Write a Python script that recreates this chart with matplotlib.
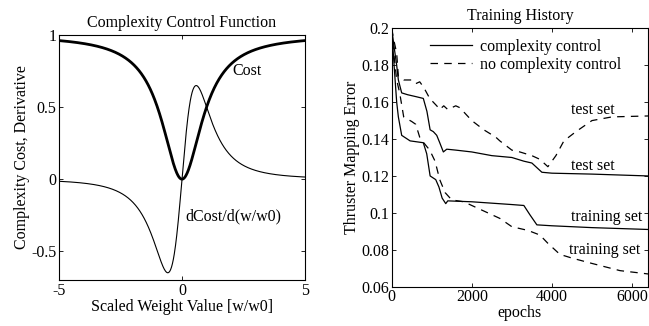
import numpy as np
import matplotlib
matplotlib.use('Agg')
import matplotlib.pyplot as plt

plt.rcParams['font.family'] = ['Liberation Serif', 'DejaVu Serif']
plt.rcParams['font.size'] = 11.5

# left panel: complexity cost w^2/(1+w^2) and its derivative
w = np.linspace(-5, 5, 801)
cost = w ** 2 / (1 + w ** 2)
dcost = 2 * w / (1 + w ** 2) ** 2

# right panel: training history
cc_test_x = [0, 60, 125, 167, 250, 400, 600, 790, 880, 960, 1040, 1125, 1200, 1290, 1375,
             1600, 2000, 2500, 3000, 3300, 3500, 3600, 3750, 4000, 5000, 6400]
cc_test_y = [0.200, 0.190, 0.180, 0.172, 0.165, 0.164, 0.163, 0.162, 0.155, 0.145, 0.144,
             0.142, 0.138, 0.133, 0.1345, 0.134, 0.133, 0.131, 0.130, 0.128, 0.127, 0.125,
             0.122, 0.1215, 0.121, 0.120]

cc_train_x = [0, 60, 125, 167, 250, 460, 790, 875, 960, 1100, 1180, 1260, 1350, 1400, 2000,
              3000, 3300, 3450, 3625, 4000, 5000, 6400]
cc_train_y = [0.200, 0.180, 0.160, 0.152, 0.142, 0.139, 0.138, 0.132, 0.120, 0.118, 0.114,
              0.108, 0.105, 0.1065, 0.106, 0.1045, 0.104, 0.099, 0.0935, 0.093, 0.092, 0.091]

nc_test_x = [0, 60, 125, 167, 300, 500, 600, 700, 800, 950, 1125, 1200, 1300, 1400, 1600,
             1700, 2000, 2300, 2600, 2700, 3000, 3200, 3500, 3700, 3900, 4100, 4300, 4600,
             5000, 5500, 6400]
nc_test_y = [0.200, 0.193, 0.1865, 0.174, 0.172, 0.172, 0.170, 0.171, 0.168, 0.162, 0.158,
             0.156, 0.158, 0.156, 0.158, 0.157, 0.150, 0.145, 0.141, 0.139, 0.134, 0.133,
             0.131, 0.129, 0.125, 0.131, 0.139, 0.144, 0.150, 0.152, 0.1525]

nc_train_x = [0, 60, 125, 200, 300, 500, 600, 700, 800, 950, 1083, 1200, 1333, 1500, 1800,
              2200, 2700, 3000, 3400, 3700, 3900, 4200, 4500, 5000, 5700, 6400]
nc_train_y = [0.200, 0.185, 0.172, 0.165, 0.152, 0.1495, 0.148, 0.141, 0.138, 0.134, 0.128,
              0.118, 0.111, 0.107, 0.106, 0.102, 0.097, 0.0925, 0.0905, 0.088, 0.0835, 0.0775,
              0.0755, 0.0726, 0.0687, 0.0669]

fig = plt.figure(figsize=(6.49, 3.26), dpi=100)

ax1 = fig.add_axes([0.0909, 0.141, 0.379, 0.7515])
ax1.plot(w, cost, color='black', linewidth=2.0)
ax1.plot(w, dcost, color='black', linewidth=0.8)
ax1.set_xlim(-5, 5)
ax1.set_ylim(-0.7, 1.0)
ax1.set_xticks([-5, 0, 5])
ax1.set_yticks([-0.5, 0, 0.5, 1])
ax1.set_yticklabels(['-0.5', '0', '0.5', '1'])
ax1.set_xticklabels(['-5', '0', '5'])
ax1.text(2.03, 0.75, 'Cost', va='center', ha='left')
ax1.text(0.12, -0.26, 'dCost/d(w/w0)', va='center', ha='left')
ax1.set_title('Complexity Control Function', fontsize=11.5, pad=6)
ax1.set_xlabel('Scaled Weight Value [w/w0]', labelpad=0)
ax1.set_ylabel('Complexity Cost, Derivative', labelpad=1)

ax2 = fig.add_axes([0.6035, 0.1206, 0.3950, 0.7926])
ax2.plot(cc_test_x, cc_test_y, color='black', linewidth=0.9, label='complexity control')
ax2.plot(nc_test_x, nc_test_y, color='black', linewidth=0.9, dashes=(6, 5),
         label='no complexity control')
ax2.plot(cc_train_x, cc_train_y, color='black', linewidth=0.9)
ax2.plot(nc_train_x, nc_train_y, color='black', linewidth=0.9, dashes=(6, 5))
ax2.set_xlim(0, 6400)
ax2.set_ylim(0.06, 0.2)
ax2.set_xticks([0, 2000, 4000, 6000])
ax2.set_yticks([0.06, 0.08, 0.1, 0.12, 0.14, 0.16, 0.18, 0.2])
ax2.set_yticklabels(['0.06', '0.08', '0.1', '0.12', '0.14', '0.16', '0.18', '0.2'])
ax2.text(4475, 0.1557, 'test set', va='center', ha='left')
ax2.text(4475, 0.1255, 'test set', va='center', ha='left')
ax2.text(4475, 0.0979, 'training set', va='center', ha='left')
ax2.text(4425, 0.0800, 'training set', va='center', ha='left')
ax2.legend(loc='upper left', bbox_to_anchor=(0.11, 1.0), frameon=False, handlelength=2.6,
           handletextpad=0.5, borderaxespad=0.25, labelspacing=0.15)
ax2.set_title('Training History', fontsize=11.5, pad=6)
ax2.set_xlabel('epochs', labelpad=0)
ax2.set_ylabel('Thruster Mapping Error', labelpad=1)

for ax in (ax1, ax2):
    ax.tick_params(direction='in', top=True, right=True, length=3, width=0.6, pad=2)
    for s in ax.spines.values():
        s.set_linewidth(0.8)

fig.savefig('out.png', dpi=100)
